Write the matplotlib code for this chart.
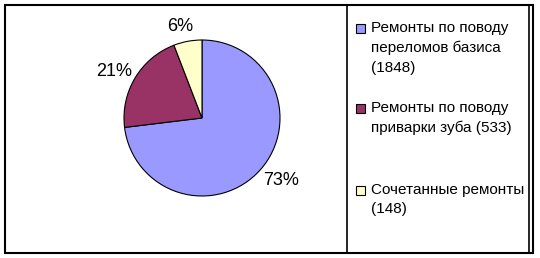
import numpy as np
import matplotlib.pyplot as plt
from matplotlib.patches import Rectangle

labels = ["Ремонты по поводу\nпереломов базиса\n(1848)",
          "Ремонты по поводу\nприварки зуба (533)",
          "Сочетанные ремонты\n(148)"]
values = [1848, 533, 148]
colors = ["#9999FF", "#993366", "#FFFFCC"]
# legend entry top positions (pixels from top)
legend_tops = [21, 101, 183]
# distance of each percent label from centre (in radii)
label_dist = [1.29, 1.28, 1.2]

plt.rcParams['font.family'] = ['Liberation Sans', 'DejaVu Sans']

W, H = 540, 258
fig = plt.figure(figsize=(W / 100, H / 100), dpi=100)

def px(x, y):
    return x / W, 1 - y / H

# outer chart border and legend box
fig.patches.append(Rectangle(px(5, 253), 528 / W, 248 / H, transform=fig.transFigure,
                             fill=False, edgecolor="black", linewidth=1.5))
fig.patches.append(Rectangle(px(347, 253), 182 / W, 248 / H, transform=fig.transFigure,
                             fill=False, edgecolor="black", linewidth=1.2))

# pie: centre ~ (202,118), radius ~78 px
r = 78
ax = fig.add_axes([(202 - r) / W, 1 - (118 + r) / H, 2 * r / W, 2 * r / H])
wedges, _ = ax.pie(values, colors=colors, startangle=90, counterclock=False,
                   wedgeprops=dict(edgecolor="black", linewidth=0.8))
total = sum(values)
for w, v, d in zip(wedges, values, label_dist):
    mid = np.deg2rad((w.theta1 + w.theta2) / 2 + 3)
    ax.text(d * np.cos(mid), d * np.sin(mid), f"{100 * v / total:.0f}%",
            ha="center", va="center", fontsize=13)
ax.set_xlim(-1, 1)
ax.set_ylim(-1, 1)
ax.set_aspect("equal")

# legend
for lab, col, top in zip(labels, colors, legend_tops):
    fig.patches.append(Rectangle(px(356, top + 12), 9 / W, 9 / H, transform=fig.transFigure,
                                 facecolor=col, edgecolor="black", linewidth=0.8))
    fig.text(*px(371, top), lab, fontsize=11, va="top", ha="left",
             linespacing=1.5)

fig.savefig("out.png", dpi=100)
